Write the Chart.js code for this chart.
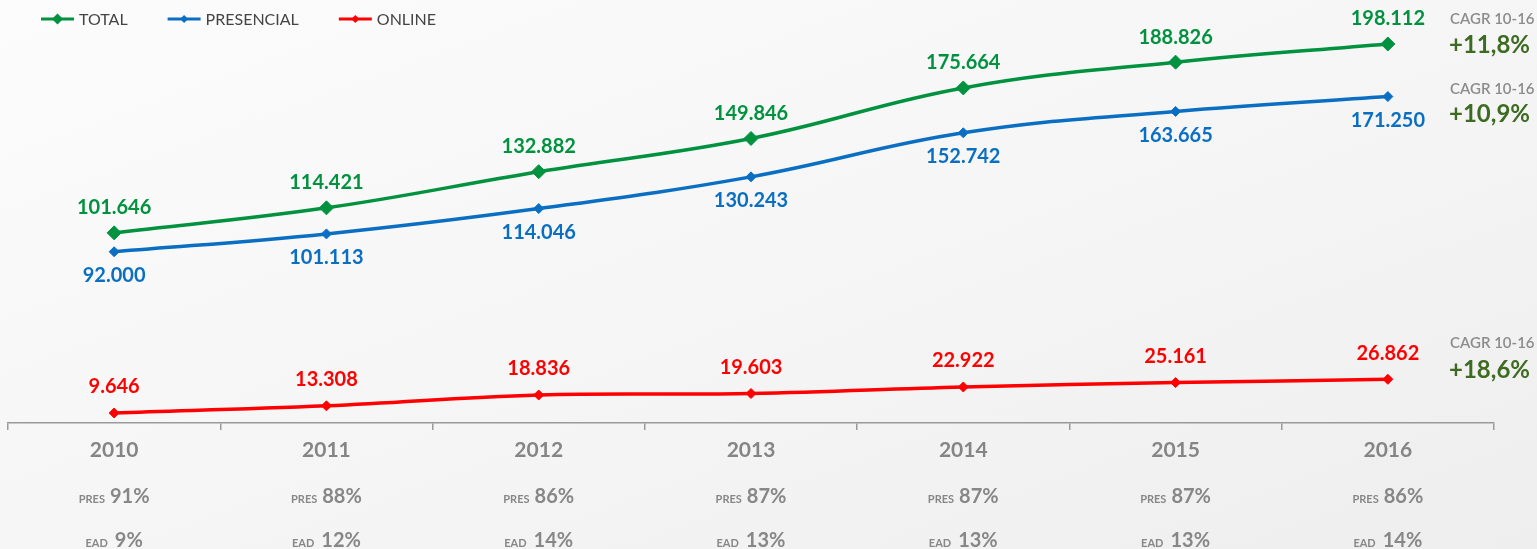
<!DOCTYPE html>
<html>
<head>
<meta charset="utf-8">
<script src="https://cdn.jsdelivr.net/npm/chart.js@4.4.1/dist/chart.umd.min.js"></script>
<style>
  html, body { margin: 0; padding: 0; }
  body {
    width: 1537px; height: 549px; overflow: hidden;
    background: linear-gradient(160deg, #fcfcfc 0%, #f5f5f5 55%, #eeeeee 100%);
  }
  canvas { display: block; }
</style>
</head>
<body>
<canvas id="grafico" width="1537" height="549"></canvas>
<script>
// datos
const anios = ['2010', '2011', '2012', '2013', '2014', '2015', '2016'];
const total = [101646, 114421, 132882, 149846, 175664, 188826, 198112];
const presencial = [92000, 101113, 114046, 130243, 152742, 163665, 171250];
const online = [9646, 13308, 18836, 19603, 22922, 25161, 26862];
const pctPres = [91, 88, 86, 87, 87, 87, 86];
const pctEad = [9, 12, 14, 13, 13, 13, 14];
const cagr = ['+11,8%', '+10,9%', '+18,6%'];
const nombres = ['TOTAL', 'PRESENCIAL', 'ONLINE'];
const colores = ['#00923f', '#0a6fc2', '#ff0000'];

const fmt = n => String(n).replace(/\B(?=(\d{3})+(?!\d))/g, '.');

function rombo(ctx, x, y, r) {
  ctx.beginPath();
  ctx.moveTo(x, y - r);
  ctx.lineTo(x + r, y);
  ctx.lineTo(x, y + r);
  ctx.lineTo(x - r, y);
  ctx.closePath();
  ctx.fill();
}

// texto chico + texto grande centrados en cx
function dibujarPar(ctx, peq, grande, cx, base, gap) {
  ctx.font = 'bold 11px Lato';
  const w1 = ctx.measureText(peq).width;
  ctx.font = 'bold 20px Lato';
  const w2 = ctx.measureText(grande).width;
  const x0 = cx - (w1 + gap + w2) / 2;
  ctx.textAlign = 'left';
  ctx.textBaseline = 'alphabetic';
  ctx.font = 'bold 11px Lato';
  ctx.fillText(peq, x0, base);
  ctx.font = 'bold 20px Lato';
  ctx.fillText(grande, x0 + w1 + gap, base);
}

const pluginExtras = {
  id: 'extras',
  afterDatasetsDraw(chart) {
    const ctx = chart.ctx;
    const area = chart.chartArea;
    ctx.save();

    // etiquetas de valores
    const desplaz = [-25, 24, -26];
    ctx.font = 'bold 20px Lato';
    ctx.textAlign = 'center';
    ctx.textBaseline = 'middle';
    chart.data.datasets.forEach((ds, i) => {
      const meta = chart.getDatasetMeta(i);
      ctx.fillStyle = ds.borderColor;
      meta.data.forEach((pt, j) => {
        ctx.fillText(fmt(ds.data[j]), pt.x, pt.y + desplaz[i]);
      });
    });

    // filas PRES / EAD
    const xs = chart.scales.x;
    ctx.fillStyle = '#878787';
    anios.forEach((a, j) => {
      const cx = xs.getPixelForValue(j);
      dibujarPar(ctx, 'PRES', pctPres[j] + '%', cx, 503, 5);
      dibujarPar(ctx, 'EAD', pctEad[j] + '%', cx, 547, 7);
    });

    // CAGR a la derecha
    const offTitulo = [-25, -7, -36];
    const offValor = [1, 18, -9];
    ctx.textAlign = 'left';
    ctx.textBaseline = 'middle';
    chart.data.datasets.forEach((ds, i) => {
      const meta = chart.getDatasetMeta(i);
      const y = meta.data[meta.data.length - 1].y;
      ctx.font = '600 15px Lato';
      ctx.fillStyle = '#8c8c8c';
      ctx.fillText('CAGR 10-16', area.right - 44, y + offTitulo[i]);
      ctx.font = 'bold 24px Lato';
      ctx.fillStyle = '#3d6b21';
      ctx.fillText(cagr[i], area.right - 45, y + offValor[i]);
    });

    // leyenda
    const radios = [5.5, 4, 4];
    let x = 41;
    const yl = 19;
    chart.data.datasets.forEach((ds, i) => {
      ctx.strokeStyle = ds.borderColor;
      ctx.fillStyle = ds.borderColor;
      ctx.lineWidth = 3;
      ctx.beginPath();
      ctx.moveTo(x, yl);
      ctx.lineTo(x + 33, yl);
      ctx.stroke();
      rombo(ctx, x + 16.5, yl, radios[i]);
      ctx.font = '16px Lato';
      ctx.fillStyle = '#444';
      ctx.fillText(ds.label, x + 38, yl + 1);
      x += 38 + ctx.measureText(ds.label).width + 40;
    });

    ctx.restore();
  }
};

const series = [total, presencial, online];
const radiosPunto = [7, 5, 5];

new Chart(document.getElementById('grafico'), {
  type: 'line',
  data: {
    labels: anios,
    datasets: series.map((serie, i) => ({
      label: nombres[i],
      data: serie,
      borderColor: colores[i],
      backgroundColor: colores[i],
      borderWidth: 3.5,
      tension: 0.4,
      fill: false,
      pointStyle: 'rectRot',
      pointRadius: radiosPunto[i],
      pointBackgroundColor: colores[i],
      pointBorderColor: colores[i],
      pointBorderWidth: 1
    }))
  },
  options: {
    responsive: false,
    animation: false,
    devicePixelRatio: 1,
    layout: { padding: { left: 8, right: 43, top: 10, bottom: 0 } },
    plugins: {
      legend: { display: false },
      tooltip: { enabled: false }
    },
    scales: {
      x: {
        offset: true,
        grid: {
          offset: true,
          drawOnChartArea: false,
          drawTicks: true,
          tickLength: 7,
          color: '#9a9a9a',
          lineWidth: 1.5
        },
        border: { color: '#9a9a9a', width: 1.5 },
        ticks: {
          color: '#858585',
          font: { family: 'Lato', size: 21, weight: 'bold' },
          padding: 8
        },
        afterFit(scale) { scale.height = 126; }
      },
      y: {
        display: false,
        min: 4540,
        max: 215460
      }
    }
  },
  plugins: [pluginExtras]
});
</script>
</body>
</html>
